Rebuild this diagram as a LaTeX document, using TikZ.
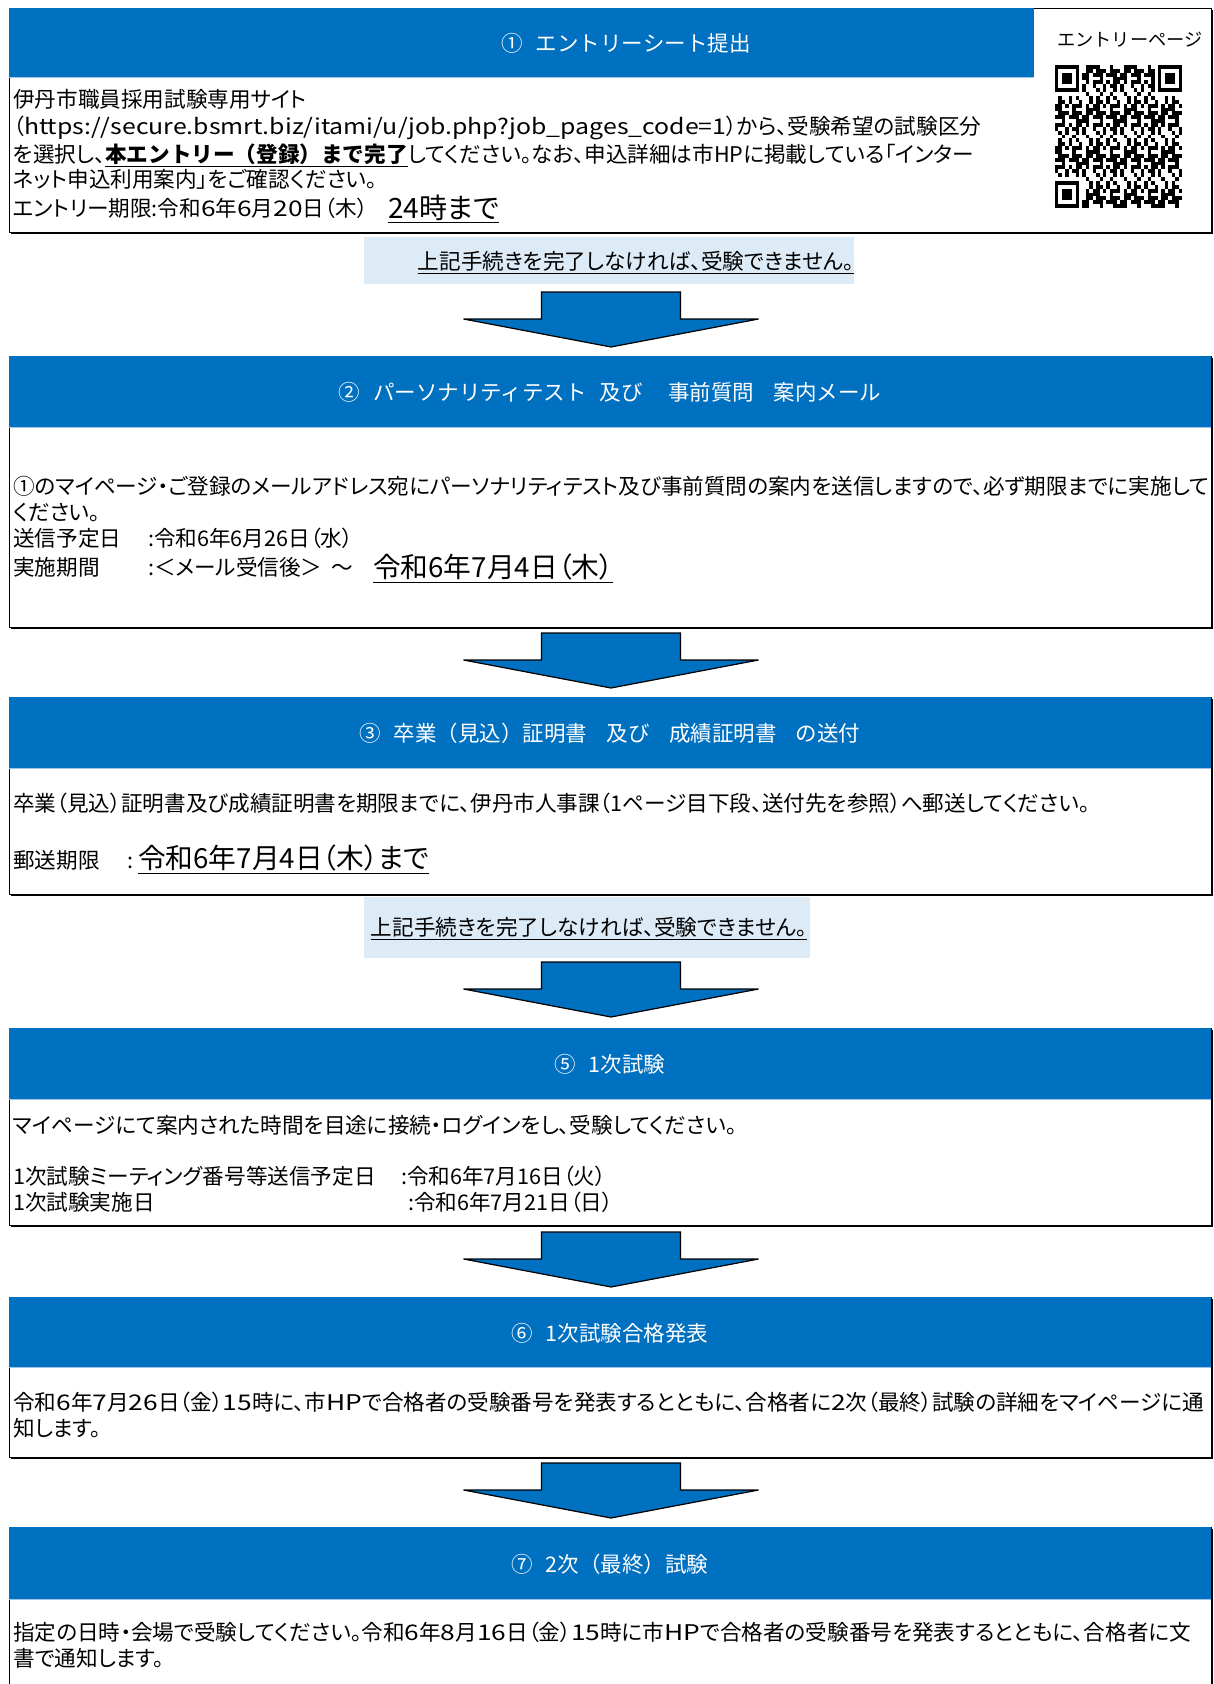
\documentclass[tikz,border=0pt]{standalone}
\usepackage{fontspec}
\setmainfont{Noto Sans CJK JP}[RawFeature=+palt]
\newfontfamily\headfont{Noto Sans CJK JP}
\newfontfamily\urlfont{Noto Sans CJK JP}[FakeStretch=1.15]
\newfontfamily\digitfont{Noto Sans CJK JP}[FakeStretch=1.22]
\newcommand\lt[1]{{\digitfont #1}}
\usetikzlibrary{calc}
\definecolor{headblue}{HTML}{0070C0}
\definecolor{notebg}{HTML}{DDEBF7}
\definecolor{headline}{HTML}{9DC3E6}
\tikzset{
  body/.style={anchor=west, inner sep=0pt, font=\fontsize{21.6}{25}\selectfont,
    text height=0.88em, text depth=0.12em},
  big/.style={body, font=\fontsize{27.7}{31}\selectfont},
  headtxt/.style={inner sep=0pt, text=white, font=\headfont\fontsize{21.5}{26}\selectfont},
  pics/downarrow/.style={code={
    \filldraw[fill=headblue, draw=black, line width=1.2]
      (-69.5,0) -- (69.5,0) -- (69.5,27) -- (147.5,27) -- (0,55)
      -- (-147.5,27) -- (-69.5,27) -- cycle;
  }}
}
\begin{document}
\begin{tikzpicture}[x=1pt,y=-1pt]
  \clip (0,0) rectangle (1213,1684);
  \fill[white] (0,0) rectangle (1213,1684);

  % PANELS
  \foreach \ya/\yh/\yb/\hr in {8/77/232/1034, 356/427/627/1211, 697/768/894/1211,
      1028/1099/1225/1211, 1297/1367/1457/1211, 1527/1599/1720/1211}{
    \fill[black] (11,\ya+2) rectangle (1213,\yb+2);
    \filldraw[fill=white, draw=black, line width=0.8] (9,\ya) rectangle (1211,\yb);
    \fill[headblue] (9.4,\ya+0.4) rectangle (\hr-0.4,\yh);
    \draw[headline, line width=1] (9.4,\yh) -- (\hr-0.4,\yh);
  }

  % HEADINGS
  \node[headtxt] (h1) at (626,43.5) {①\hspace{0.6em}エントリーシート提出};
  \node[headtxt] (h2) at (610,392.5) {②\hspace{0.6em}パーソナリティテスト\hspace{0.6em}及び\hspace{1.2em}事前質問\hspace{0.9em}案内メール};
  \node[headtxt] (h3) at (610,733.5) {③\hspace{0.6em}卒業（見込）証明書\hspace{0.9em}及び\hspace{0.9em}成績証明書\hspace{0.9em}の送付};
  \node[headtxt] (h5) at (610,1064.5) {⑤\hspace{0.6em}1次試験};
  \node[headtxt] (h6) at (610,1333) {⑥\hspace{0.6em}1次試験合格発表};
  \node[headtxt] (h7) at (610,1564) {⑦\hspace{0.6em}2次（最終）試験};

  % ENTRY SHEET
  \node[body] (t1a) at (13,104) {伊丹市職員採用試験専用サイト};
  \node[body] (t1b) at (13,131) {（{\urlfont https://secure.bsmrt.biz/itami/u/job.php?job\_pages\_code=1}）から、受験希望の試験区分};
  \node[body] (t1c) at (13,159) {を選択し、{\headfont\bfseries\underline{本エントリー（登録）まで完了}}してください。なお、申込詳細は市HPに掲載している「インター};
  \node[body] (t1d) at (13,184) {ネット申込利用案内」をご確認ください。};
  \node[body] (t1e) at (13,213) {エントリー期限:令和\lt{6}年\lt{6}月\lt{20}日（木）};
  \node[big, font=\fontsize{28}{32}\selectfont] (t1f) at (388,215) {\underline{24時まで}};
  \node[inner sep=0pt, font=\headfont\fontsize{18.2}{22}\selectfont] (qrlabel) at (1130,40) {エントリーページ};

  % QR CODE
  \pgfmathsetmacro\mw{127/37}
  \pgfmathsetmacro\mh{143/37}
  \foreach \i in {0,...,36}{
    \foreach \j in {0,...,36}{
      \pgfmathtruncatemacro\bit{mod(mod(\i*\i*7,11)+mod(\j*\j*5,11)+mod(\i*\j*3,11)+\i*7+\j*13,11)<5}
      \pgfmathtruncatemacro\keep{((\i<8 && \j<8) || (\i>28 && \j<8) || (\i<8 && \j>28)) ? 0 : \bit}
      \ifnum\keep=1 \fill (1055+\i*\mw,65+\j*\mh) rectangle ++(\mw,\mh); \fi
    }
  }
  \foreach \fx/\fy in {0/0, 30/0, 0/30}{
    \fill (1055+\fx*\mw,65+\fy*\mh) rectangle ++(7*\mw,7*\mh);
    \fill[white] (1055+\fx*\mw+\mw,65+\fy*\mh+\mh) rectangle ++(5*\mw,5*\mh);
    \fill (1055+\fx*\mw+2*\mw,65+\fy*\mh+2*\mh) rectangle ++(3*\mw,3*\mh);
  }

  % NOTE 1
  \fill[notebg] (364,237) rectangle (854,284);
  \node[body, anchor=center] (n1) at (636,266) {\underline{上記手続きを完了しなければ、受験できません。}};
  \pic at (611,292) {downarrow};

  % PERSONALITY TEST
  \node[body] (t2a) at (13,491) {①のマイページ・ご登録のメールアドレス宛にパーソナリティテスト及び事前質問の案内を送信しますので、必ず期限までに実施して};
  \node[body] (t2b) at (13,517) {ください。};
  \node[body] (t2c) at (13,543) {送信予定日};
  \node[body] (t2d) at (148,543) {:令和6年6月26日（水）};
  \node[body] (t2e) at (13,572) {実施期間};
  \node[body] (t2f) at (148,572) {:＜メール受信後＞\hspace{0.4em}～};
  \node[big] (t2g) at (373,574) {\underline{令和6年7月4日（木）}};
  \pic at (611,633) {downarrow};

  % CERTIFICATES
  \node[body] (t3a) at (13,808) {卒業（見込）証明書及び成績証明書を期限までに、伊丹市人事課（1ページ目下段、送付先を参照）へ郵送してください。};
  \node[body] (t3b) at (13,865) {郵送期限};
  \node[body] (t3c) at (127,865) {:};
  \node[big] (t3d) at (138,865) {\underline{令和6年7月4日（木）まで}};

  % NOTE 2
  \fill[notebg] (364,897) rectangle (810,958);
  \node[body, anchor=center] (n2) at (589,932) {\underline{上記手続きを完了しなければ、受験できません。}};
  \pic at (611,962) {downarrow};

  % FIRST EXAM
  \node[body] (t5a) at (13,1130) {マイページにて案内された時間を目途に接続・ログインをし、受験してください。};
  \node[body] (t5b) at (13,1181) {1次試験ミーティング番号等送信予定日};
  \node[body] (t5c) at (401,1181) {:令和6年7月16日（火）};
  \node[body] (t5d) at (13,1207) {1次試験実施日};
  \node[body] (t5e) at (408,1207) {:令和6年7月21日（日）};
  \pic at (611,1232) {downarrow};

  % FIRST RESULT
  \node[body] (t6a) at (13,1407) {令和\lt{6}年\lt{7}月\lt{26}日（金）\lt{15}時に、市\lt{HP}で合格者の受験番号を発表するとともに、合格者に\lt{2}次（最終）試験の詳細をマイページに通};
  \node[body] (t6b) at (13,1433) {知します。};
  \pic at (611,1463) {downarrow};

  % FINAL EXAM
  \node[body] (t7a) at (13,1637) {指定の日時・会場で受験してください。令和\lt{6}年\lt{8}月\lt{16}日（金）\lt{15}時に市\lt{HP}で合格者の受験番号を発表するとともに、合格者に文};
  \node[body] (t7b) at (13,1663) {書で通知します。};
\end{tikzpicture}
\end{document}
